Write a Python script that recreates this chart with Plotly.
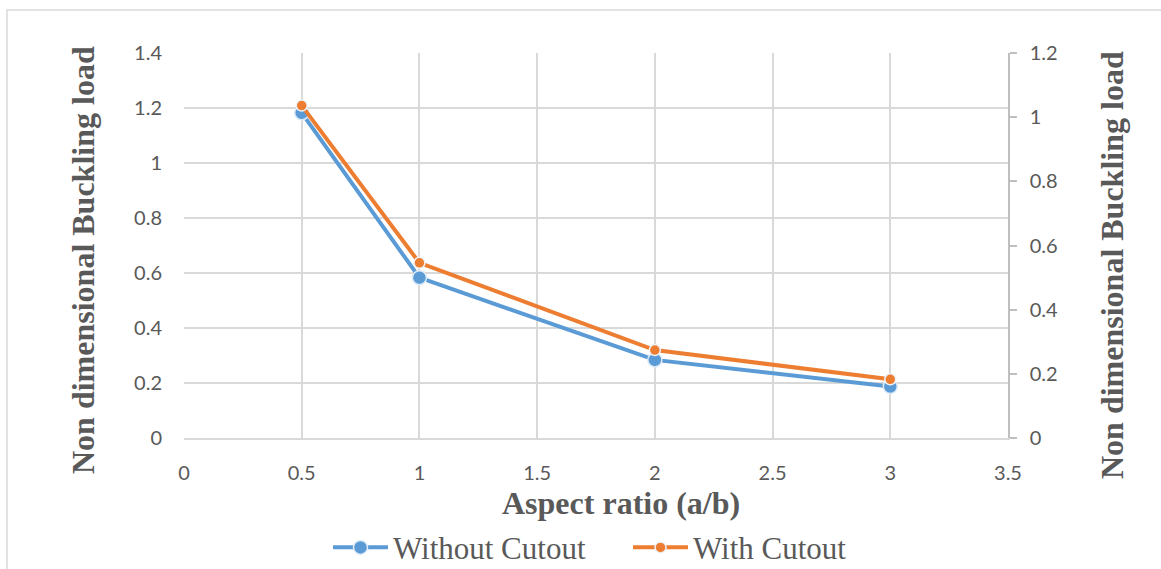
import plotly.graph_objects as go

aspect_ratio = [0.5, 1, 2, 3]
without_cutout = [1.182, 0.583, 0.284, 0.187]
with_cutout = [1.036, 0.546, 0.274, 0.183]

x_ticks = [0, 0.5, 1, 1.5, 2, 2.5, 3, 3.5]
y_left_ticks = [0, 0.2, 0.4, 0.6, 0.8, 1, 1.2, 1.4]
y_right_ticks = [0, 0.2, 0.4, 0.6, 0.8, 1, 1.2]

BLUE = "#5b9bd5"
ORANGE = "#ed7d31"
GRID = "#d9d9d9"
TXT = "#595959"

fig = go.Figure()
fig.add_trace(go.Scatter(
    x=aspect_ratio, y=without_cutout, name="Without Cutout", mode="lines+markers",
    line=dict(color=BLUE, width=4),
    marker=dict(size=14, color=BLUE, line=dict(color="#deebf7", width=1.5)),
    yaxis="y"))
fig.add_trace(go.Scatter(
    x=aspect_ratio, y=with_cutout, name="With Cutout", mode="lines+markers",
    line=dict(color=ORANGE, width=4),
    marker=dict(size=11, color=ORANGE, line=dict(color="#eef3fa", width=1.5)),
    yaxis="y2"))

tickfont = dict(family="Lato, Noto Sans, sans-serif", size=20, color=TXT)
titlefont = dict(family="Liberation Serif, Times New Roman, serif", size=32, color=TXT)

fig.update_layout(
    width=1161, height=569,
    margin=dict(l=184, r=153, t=53, b=131, autoexpand=False),
    paper_bgcolor="white", plot_bgcolor="white",
    showlegend=True,
    legend=dict(orientation="h", x=(328 - 184) / 824, xanchor="left", y=-0.285, yanchor="middle",
                font=dict(family="Liberation Serif, Times New Roman, serif", size=31, color=TXT),
                itemwidth=55, entrywidth=230, entrywidthmode="pixels", tracegroupgap=0),
    xaxis=dict(range=[0, 3.5], tickvals=x_ticks, ticktext=[f"{v:g}" for v in x_ticks],
               showgrid=True, gridcolor=GRID, gridwidth=1.5, zeroline=False,
               showline=True, linecolor=GRID, linewidth=1.5,
               tickfont=tickfont, ticks="", ticklabelstandoff=16),
    yaxis=dict(range=[0, 1.4], tickvals=y_left_ticks, ticktext=[f"{v:g}" for v in y_left_ticks],
               showgrid=True, gridcolor=GRID, gridwidth=1.5, zeroline=False,
               showline=False, tickfont=tickfont, ticks="", ticklabelstandoff=21),
    yaxis2=dict(range=[0, 1.2], tickvals=y_right_ticks, ticktext=[f"{v:g}" for v in y_right_ticks],
                overlaying="y", side="right", showgrid=False, zeroline=False,
                showline=True, linecolor="#bfbfbf", linewidth=1.5,
                ticks="outside", ticklen=7, tickcolor="#bfbfbf", tickwidth=1.5,
                tickfont=tickfont, ticklabelstandoff=9),
    annotations=[
        dict(text="<b>Aspect ratio (a/b)</b>", xref="paper", yref="paper",
             x=(621 - 184) / 824, y=(438 - 503) / 385, xanchor="center", yanchor="middle",
             showarrow=False, font=titlefont),
        dict(text="<b>Non dimensional Buckling load</b>", xref="paper", yref="paper",
             x=(83 - 184) / 824, y=(438 - 260) / 385, xanchor="center", yanchor="middle",
             textangle=-90, showarrow=False, font=titlefont),
        dict(text="<b>Non dimensional Buckling load</b>", xref="paper", yref="paper",
             x=(1112 - 184) / 824, y=(438 - 265) / 385, xanchor="center", yanchor="middle",
             textangle=-90, showarrow=False, font=titlefont),
    ],
    shapes=[dict(type="rect", xref="paper", yref="paper",
                 x0=(7 - 184) / 824, x1=1.3, y0=-0.5, y1=(438 - 10) / 385,
                 line=dict(color=GRID, width=1.5), fillcolor="rgba(0,0,0,0)", layer="below")],
)

fig.write_html("out.html")
